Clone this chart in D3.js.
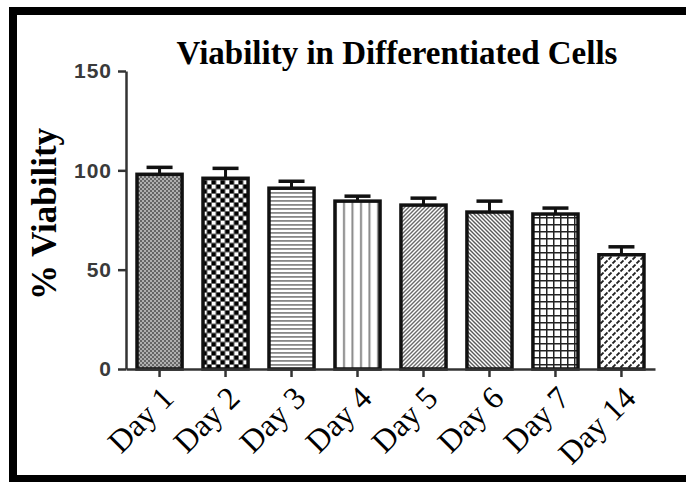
<!DOCTYPE html>
<html>
<head>
<meta charset="utf-8">
<script src="https://cdn.jsdelivr.net/npm/d3@7"></script>
<style>
  html, body { margin: 0; padding: 0; background: #fff; }
  svg { display: block; }
</style>
</head>
<body>
<div id="chart"></div>
<script>
(function() {
  var days = ['Day 1', 'Day 2', 'Day 3', 'Day 4', 'Day 5', 'Day 6', 'Day 7', 'Day 14'];
  var viability = [98, 96, 91, 84.5, 82.5, 79, 78, 57.5];
  var sem = [3.5, 5, 3.5, 2.5, 3.5, 5.5, 3, 4];
  var yTicks = [0, 50, 100, 150];
  var patternIds = ['p-fine', 'p-dots', 'p-hlines', 'p-vlines', 'p-diagR', 'p-diagL', 'p-grid', 'p-dash'];

  var width = 686, height = 482;

  var svg = d3.select('#chart').append('svg')
    .attr('width', width)
    .attr('height', height);

  var defs = svg.append('defs');

  var pat = function(id, w, h) {
    return defs.append('pattern').attr('id', id)
      .attr('patternUnits', 'userSpaceOnUse')
      .attr('width', w).attr('height', h);
  };

  // Day 1 - fine gray checker
  var p = pat('p-fine', 4, 4);
  p.append('rect').attr('width', 4).attr('height', 4).attr('fill', '#b0b0b0');
  p.append('rect').attr('width', 2).attr('height', 2).attr('fill', '#666');
  p.append('rect').attr('x', 2).attr('y', 2).attr('width', 2).attr('height', 2).attr('fill', '#666');

  // Day 2 - black / white dots
  p = pat('p-dots', 9, 9);
  p.append('rect').attr('width', 9).attr('height', 9).attr('fill', '#666');
  p.append('rect').attr('x', 0.5).attr('y', 0.5).attr('width', 3.5).attr('height', 3.5).attr('fill', '#fff');
  p.append('rect').attr('x', 5).attr('y', 5).attr('width', 3.5).attr('height', 3.5).attr('fill', '#fff');
  p.append('rect').attr('x', 5).attr('y', 0.5).attr('width', 3.5).attr('height', 3.5).attr('fill', '#000');
  p.append('rect').attr('x', 0.5).attr('y', 5).attr('width', 3.5).attr('height', 3.5).attr('fill', '#000');

  // Day 3 - horizontal lines
  p = pat('p-hlines', 4, 4);
  p.append('rect').attr('width', 4).attr('height', 4).attr('fill', '#fff');
  p.append('rect').attr('y', 0).attr('width', 4).attr('height', 1.8).attr('fill', '#888');

  // Day 4 - vertical lines
  p = pat('p-vlines', 8.5, 8);
  p.append('rect').attr('width', 8.5).attr('height', 8).attr('fill', '#fff');
  p.append('rect').attr('x', 3).attr('width', 2).attr('height', 8).attr('fill', '#888');

  // Day 5 - forward diagonal
  p = pat('p-diagR', 4, 4);
  p.append('rect').attr('width', 4).attr('height', 4).attr('fill', '#fff');
  p.append('path').attr('d', 'M-1,1 L1,-1 M0,4 L4,0 M3,5 L5,3')
    .attr('stroke', '#6a6a6a').attr('stroke-width', 1.4);

  // Day 6 - backward diagonal
  p = pat('p-diagL', 4, 4);
  p.append('rect').attr('width', 4).attr('height', 4).attr('fill', '#fff');
  p.append('path').attr('d', 'M-1,3 L1,5 M0,0 L4,4 M3,-1 L5,1')
    .attr('stroke', '#5a5a5a').attr('stroke-width', 1.4);

  // Day 7 - grid
  p = pat('p-grid', 7, 7);
  p.append('rect').attr('width', 7).attr('height', 7).attr('fill', '#fff');
  p.append('path').attr('d', 'M0,0.75 H7 M0.75,0 V7')
    .attr('stroke', '#222').attr('stroke-width', 1.5);

  // Day 14 - diagonal dashes
  p = pat('p-dash', 8, 8);
  p.append('rect').attr('width', 8).attr('height', 8).attr('fill', '#fff');
  p.append('path').attr('d', 'M0.5,3.5 L3.5,0.5 M4.5,7.5 L7.5,4.5')
    .attr('stroke', '#222').attr('stroke-width', 1.8);

  // frame
  svg.append('path')
    .attr('d', 'M13,7 V482 M9,11 H686 M9,479 H686')
    .attr('fill', 'none')
    .attr('stroke', '#000')
    .attr('stroke-width', 8);

  var x = d3.scaleBand()
    .domain(days)
    .range([126, 655])
    .paddingInner(0.317)
    .paddingOuter(0.167);

  var y = d3.scaleLinear()
    .domain([0, 150])
    .range([369, 71]);

  // title
  svg.append('text')
    .text('Viability in Differentiated Cells')
    .attr('x', 397)
    .attr('y', 64)
    .attr('text-anchor', 'middle')
    .attr('font-family', '"Liberation Serif", "Times New Roman", serif')
    .attr('font-weight', 'bold')
    .attr('font-size', '33px')
    .attr('fill', '#000');

  // y label
  svg.append('text')
    .text('% Viability')
    .attr('transform', 'translate(56,214) rotate(-90)')
    .attr('text-anchor', 'middle')
    .attr('font-family', '"Liberation Serif", "Times New Roman", serif')
    .attr('font-weight', 'bold')
    .attr('font-size', '35px')
    .attr('fill', '#000');

  // error bars
  var err = svg.append('g').selectAll('g').data(days).enter().append('g');
  err.append('line')
    .attr('x1', function(d) { return x(d) + x.bandwidth() / 2; })
    .attr('x2', function(d) { return x(d) + x.bandwidth() / 2; })
    .attr('y1', function(d, i) { return y(viability[i]); })
    .attr('y2', function(d, i) { return y(viability[i] + sem[i]); })
    .attr('stroke', '#111').attr('stroke-width', 3);
  err.append('line')
    .attr('x1', function(d) { return x(d) + x.bandwidth() / 2 - 13; })
    .attr('x2', function(d) { return x(d) + x.bandwidth() / 2 + 13; })
    .attr('y1', function(d, i) { return y(viability[i] + sem[i]); })
    .attr('y2', function(d, i) { return y(viability[i] + sem[i]); })
    .attr('stroke', '#111').attr('stroke-width', 3.5);

  // bars
  svg.append('g').selectAll('rect').data(days).enter().append('rect')
    .attr('x', function(d) { return x(d); })
    .attr('y', function(d, i) { return y(viability[i]); })
    .attr('width', x.bandwidth())
    .attr('height', function(d, i) { return y(0) - y(viability[i]); })
    .attr('fill', function(d, i) { return 'url(#' + patternIds[i] + ')'; })
    .attr('stroke', '#111')
    .attr('stroke-width', 3.5);

  // axes
  var yAxis = svg.append('g')
    .attr('transform', 'translate(126,0)')
    .call(d3.axisLeft(y).tickValues(yTicks).tickSize(8).tickSizeOuter(0).tickPadding(6));

  var xAxis = svg.append('g')
    .attr('transform', 'translate(0,369)')
    .call(d3.axisBottom(x).tickSize(8).tickSizeOuter(0));

  svg.selectAll('.domain, .tick line')
    .attr('stroke', '#333')
    .attr('stroke-width', 2.5);

  yAxis.selectAll('text')
    .attr('font-family', '"Liberation Sans", Arial, sans-serif')
    .attr('font-weight', 'bold')
    .attr('font-size', '21px')
    .attr('letter-spacing', '1px')
    .attr('fill', '#3a3a3a');

  xAxis.selectAll('text')
    .attr('font-family', '"Liberation Serif", "Times New Roman", serif')
    .attr('font-size', '32px')
    .attr('fill', '#000')
    .attr('text-anchor', 'end')
    .attr('dy', null)
    .attr('y', null)
    .attr('transform', 'translate(16,31) rotate(-45)');
}).call(this);
</script>
</body>
</html>
